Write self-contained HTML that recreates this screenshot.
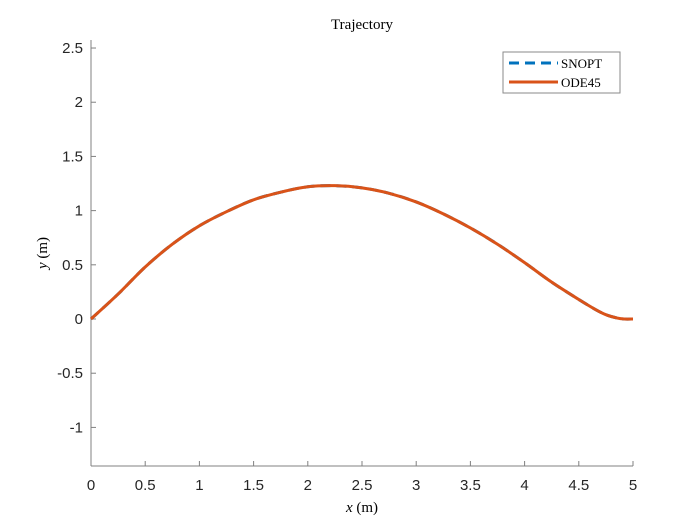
<!DOCTYPE html>
<html><head><meta charset="utf-8"><style>
body{margin:0;background:#fff;}
svg text{font-family:"Liberation Sans",sans-serif;}
.serif{font-family:"Liberation Serif",serif;}
</style></head><body>
<svg id="chart" width="700" height="525" xmlns="http://www.w3.org/2000/svg">
<rect width="700" height="525" fill="#fff"/>
<g id="axes"></g>
<g id="series"></g>
<text x="362" y="29" text-anchor="middle" font-size="15" class="serif" style="font-family:'Liberation Serif',serif">Trajectory</text>
<text x="362" y="512" text-anchor="middle" font-size="15" style="font-family:'Liberation Serif',serif"><tspan font-style="italic">x</tspan> (m)</text>
<text transform="translate(47,253) rotate(-90)" text-anchor="middle" font-size="15" style="font-family:'Liberation Serif',serif"><tspan font-style="italic">y</tspan> (m)</text>
<g>
<rect x="503" y="52" width="117" height="41" fill="#fff" stroke="#8a8a8a" stroke-width="1"/>
<line x1="509" y1="63" x2="558" y2="63" stroke="#0072bd" stroke-width="3" stroke-dasharray="10,6"/>
<text x="561" y="68" font-size="13" style="font-family:'Liberation Serif',serif">SNOPT</text>
<line x1="509" y1="82" x2="558" y2="82" stroke="#d95319" stroke-width="3"/>
<text x="561" y="87" font-size="13" style="font-family:'Liberation Serif',serif">ODE45</text>
</g>
</svg>
<script>
const xTicks=[0,0.5,1,1.5,2,2.5,3,3.5,4,4.5,5];
const yTicks=[-1,-0.5,0,0.5,1,1.5,2,2.5];
const xData=[0,0.25,0.5,0.75,1,1.25,1.5,1.75,2,2.25,2.5,2.75,3,3.25,3.5,3.75,4,4.25,4.5,4.65,4.75,4.85,4.92,5];
const ySnopt=[0,0.23,0.48,0.69,0.86,0.99,1.1,1.17,1.22,1.23,1.21,1.16,1.08,0.97,0.84,0.69,0.52,0.34,0.18,0.09,0.04,0.01,0,0];
const yOde=[0,0.23,0.48,0.69,0.86,0.99,1.1,1.17,1.22,1.23,1.21,1.16,1.08,0.97,0.84,0.69,0.52,0.34,0.18,0.09,0.04,0.01,0,0];
const X0=91,X1=633,Y0=466,Y1=40,xmin=0,xmax=5,ymin=-1.356,ymax=2.574;
function sx(v){return X0+(v-xmin)/(xmax-xmin)*(X1-X0);}
function sy(v){return Y0-(v-ymin)/(ymax-ymin)*(Y0-Y1);}
const NS="http://www.w3.org/2000/svg";
const ax=document.getElementById('axes');
function mk(t,a,p){const e=document.createElementNS(NS,t);for(const k in a)e.setAttribute(k,a[k]);p.appendChild(e);return e;}
const xl=mk('line',{x1:X0,y1:Y0,x2:X1,y2:Y0,stroke:'#808080'},ax);


const yl=mk('line',{x1:X0,y1:Y0,x2:X0,y2:Y1,stroke:'#808080'},ax);


xTicks.forEach(v=>{const x=sx(v);
mk('line',{x1:x,y1:Y0,x2:x,y2:Y0-5,stroke:'#808080'},ax);
const t=mk('text',{x:x,y:Y0+24,'text-anchor':'middle','font-size':15,fill:'#262626'},ax);t.textContent=String(v);

});
yTicks.forEach(v=>{const y=sy(v);
mk('line',{x1:X0,y1:y,x2:X0+5,y2:y,stroke:'#808080'},ax);
const t=mk('text',{x:X0-8,y:y+5,'text-anchor':'end','font-size':15,fill:'#262626'},ax);t.textContent=String(v);

});
function path(ys){let d='';const p=xData.map((x,i)=>[sx(x),sy(ys[i])]);
d='M'+p[0][0]+','+p[0][1];
for(let i=0;i<p.length-1;i++){const p0=p[Math.max(0,i-1)],p1=p[i],p2=p[i+1],p3=p[Math.min(p.length-1,i+2)];
d+=' C'+(p1[0]+(p2[0]-p0[0])/6)+','+(p1[1]+(p2[1]-p0[1])/6)+' '+(p2[0]-(p3[0]-p1[0])/6)+','+(p2[1]-(p3[1]-p1[1])/6)+' '+p2[0]+','+p2[1];}
return d;}
const sg=document.getElementById('series');
const s1=mk('path',{d:path(ySnopt),fill:'none',stroke:'#0072bd','stroke-width':3,'stroke-dasharray':'10,6'},sg);


const s2=mk('path',{d:path(yOde),fill:'none',stroke:'#d95319','stroke-width':3},sg);


</script>
</body></html>
